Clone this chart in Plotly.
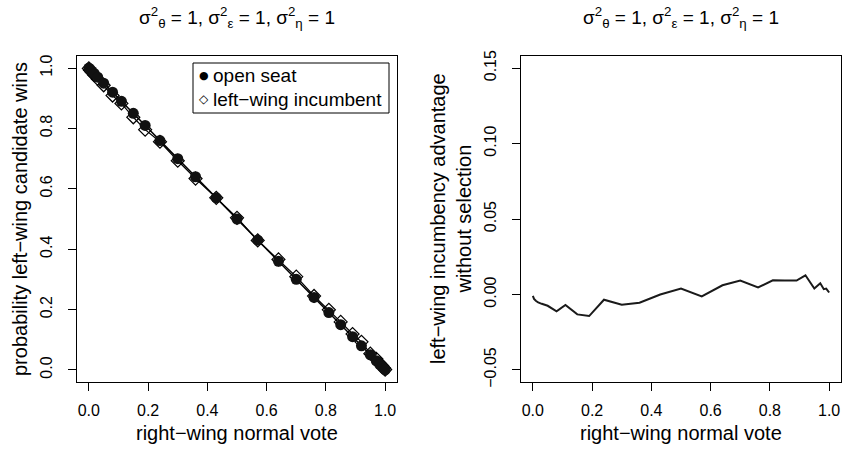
"""Open seat vs left-wing incumbent: win probability and incumbency advantage."""

import plotly.graph_objects as go

# right-wing normal vote grid (shared by both panels)
normal_vote = [0.0, 0.004, 0.01, 0.018, 0.03, 0.05, 0.08, 0.11, 0.15, 0.19,
               0.24, 0.30, 0.36, 0.43, 0.50, 0.57, 0.64, 0.70, 0.76, 0.81,
               0.85, 0.89, 0.92, 0.95, 0.97, 0.982, 0.99, 0.996, 1.0]

# probability that the left-wing candidate wins
p_open_seat = [1.0, 0.996, 0.99, 0.982, 0.97, 0.95, 0.92, 0.89, 0.85, 0.81,
               0.76, 0.70, 0.64, 0.57, 0.50, 0.43, 0.36, 0.30, 0.24, 0.19,
               0.15, 0.11, 0.08, 0.05, 0.03, 0.018, 0.01, 0.004, 0.0]
p_incumbent = [0.999, 0.993, 0.986, 0.977, 0.964, 0.943, 0.909, 0.883, 0.837, 0.796,
               0.756, 0.693, 0.634, 0.570, 0.504, 0.429, 0.366, 0.309, 0.245, 0.199,
               0.159, 0.119, 0.093, 0.054, 0.037, 0.021, 0.014, 0.006, 0.001]

# incumbency advantage without selection
advantage = [-0.001, -0.003, -0.0042, -0.0053, -0.0062, -0.0075, -0.0112, -0.0070,
             -0.0132, -0.0143, -0.0035, -0.0068, -0.0055, 0.0000, 0.0039, -0.0013,
             0.0061, 0.0092, 0.0046, 0.0094, 0.0093, 0.0092, 0.0127, 0.0039,
             0.0074, 0.0035, 0.0039, 0.0024, 0.0013]

x_ticks = [0.0, 0.2, 0.4, 0.6, 0.8, 1.0]
left_y_ticks = [0.0, 0.2, 0.4, 0.6, 0.8, 1.0]
right_y_ticks = [-0.05, 0.0, 0.05, 0.10, 0.15]

title_text = ("σ<sup>2</sup><sub>θ</sub> = 1, σ<sup>2</sup><sub>ε</sub> = 1, "
              "σ<sup>2</sup><sub>η</sub> = 1")

FONT = "Liberation Sans, Arial, Helvetica, sans-serif"

# figure geometry in pixels
W, H = 843, 452
L, R, T, B = 77, 2, 56, 70
PW, PH = W - L - R, H - T - B


def px(x):
    return (x - L) / PW


def py(y):
    return (H - B - y) / PH


fig = go.Figure()

fig.add_trace(go.Scatter(
    x=normal_vote, y=p_incumbent, mode='lines+markers',
    line=dict(color='black', width=1.2),
    marker=dict(symbol='diamond-open', size=10, color='black',
                line=dict(width=1.2, color='black')),
    xaxis='x', yaxis='y', showlegend=False
))
fig.add_trace(go.Scatter(
    x=normal_vote, y=p_open_seat, mode='lines+markers',
    line=dict(color='black', width=1.5),
    marker=dict(symbol='circle', size=11, color='#111111'),
    xaxis='x', yaxis='y', showlegend=False
))
fig.add_trace(go.Scatter(
    x=normal_vote, y=advantage, mode='lines',
    line=dict(color='#1a1a1a', width=2),
    xaxis='x2', yaxis='y2', showlegend=False
))

axis_common = dict(
    showline=True, mirror=True, linecolor='black', linewidth=1,
    ticks='outside', ticklen=8, tickcolor='black', tickwidth=1,
    showgrid=False, zeroline=False,
    tickfont=dict(family=FONT, size=16, color='black'),
)
left_frac = 320 / PW

fig.update_layout(
    width=W, height=H,
    margin=dict(l=L, r=R, t=T, b=B),
    plot_bgcolor='white', paper_bgcolor='white',
    font=dict(family=FONT, color='black'),
    xaxis=dict(domain=[0, left_frac], range=[-0.04, 1.04],
               tickvals=x_ticks, ticktext=[f"{v:.1f}" for v in x_ticks],
               ticklabelstandoff=6, **axis_common),
    yaxis=dict(domain=[0, 1], range=[-0.04, 1.04], anchor='x',
               tickvals=left_y_ticks, ticktext=[f"{v:.1f}" for v in left_y_ticks],
               tickangle=-90, ticklabelstandoff=10, **axis_common),
    xaxis2=dict(domain=[1 - left_frac, 1], range=[-0.04, 1.04], anchor='y2',
                tickvals=x_ticks, ticktext=[f"{v:.1f}" for v in x_ticks],
                ticklabelstandoff=6, **axis_common),
    yaxis2=dict(domain=[0, 1], range=[-0.058, 0.158], anchor='x2',
                tickvals=right_y_ticks,
                ticktext=[f"{v:.2f}".replace('-', '−') for v in right_y_ticks],
                tickangle=-90, ticklabelstandoff=10, **axis_common),
)

annotations = [
    # panel titles
    dict(x=px(237), y=py(17), text=title_text, font=dict(size=19)),
    dict(x=px(681), y=py(17), text=title_text, font=dict(size=19)),
    # axis titles
    dict(x=px(237), y=py(433), text="right−wing normal vote", font=dict(size=20)),
    dict(x=px(681), y=py(433), text="right−wing normal vote", font=dict(size=20)),
    dict(x=px(20), y=py(219), text="probability left−wing candidate wins",
         textangle=-90, font=dict(size=20)),
    dict(x=px(451), y=py(219),
         text="left−wing incumbency advantage<br>without selection",
         textangle=-90, font=dict(size=20)),
    # legend
    dict(x=px(204), y=py(75), text="●", font=dict(family="DejaVu Sans", size=11)),
    dict(x=px(204), y=py(99), text="◇", font=dict(family="DejaVu Sans", size=12)),
    dict(x=px(211), y=py(75), text="open seat", xanchor='left', font=dict(size=19)),
    dict(x=px(211), y=py(99), text="left−wing incumbent", xanchor='left',
         font=dict(size=19)),
]
for a in annotations:
    a.setdefault('xanchor', 'center')
    fig.add_annotation(xref='paper', yref='paper', showarrow=False,
                       yanchor='middle', **a)

fig.add_shape(type='rect', xref='paper', yref='paper',
              x0=px(193), x1=px(389), y0=py(113), y1=py(63),
              line=dict(color='black', width=1), fillcolor='white', layer='below')

# the page body has a default 8px margin; drop it so the figure sits at 0,0
fig.write_html("out.html", config={'displayModeBar': False},
               post_script="document.body.style.margin = '0';")
